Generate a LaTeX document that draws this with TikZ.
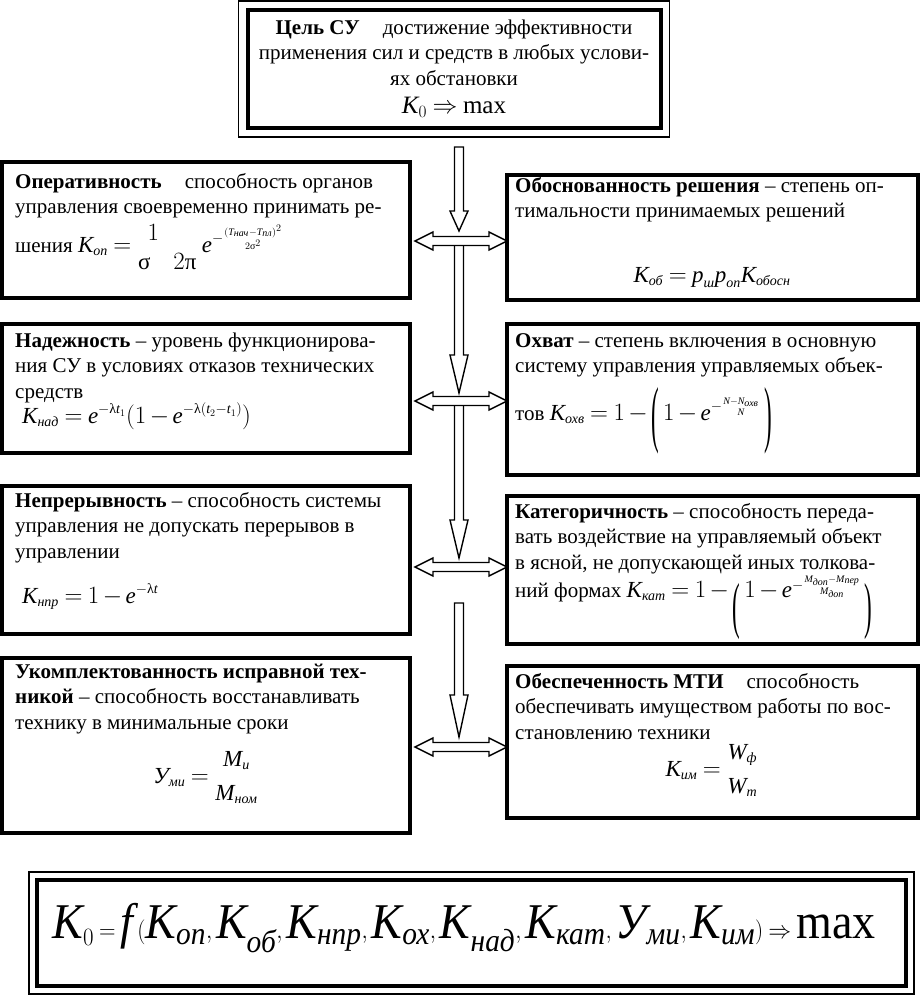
\documentclass[tikz,border=0pt]{standalone}
\usepackage{amsmath}
\usepackage{graphicx}
\usepackage{fontspec}
\setmainfont{Liberation Serif}
\usetikzlibrary{calc}
\DeclareMathSizes{23}{23}{14}{10}
\DeclareMathSizes{50}{50}{32}{24}
\thickmuskip=4mu plus 2mu
\medmuskip=2.5mu plus 1mu minus 1mu
\newcommand\vi[1]{\textit{#1}}
\newcommand\gr[1]{\text{\upshape #1}}
\newcommand\nb[2]{\genfrac{}{}{0pt}{}{#1}{#2}}
\newcommand\nbd[2]{\genfrac{}{}{0pt}{0}{#1}{#2}}
\newcommand\tparen[3]{\raisebox{#3}{\scalebox{1}[#2]{\fontsize{23pt}{27pt}\selectfont #1}}}
\newcommand\bodyfont{\fontsize{21pt}{25.5pt}\selectfont}
\newcommand\formfont{\fontsize{23pt}{27pt}\selectfont}
\newcommand\hvarrow[3]{\draw[blockarrow] let \p1=(#1),\p2=(#2) in
  (\x1-4.5pt,\y1) -- (\x1-4.5pt,\y2+#3) -- (\x1-9pt,\y2+#3) -- (\x1,\y2)
  -- (\x1+9pt,\y2+#3) -- (\x1+4.5pt,\y2+#3) -- (\x1+4.5pt,\y1) -- cycle;}
\newcommand\hharrow[2]{\draw[blockarrow] let \p1=(#1),\p2=(#2) in
  (\x1,\y1) -- (\x1+18pt,\y1+9pt) -- (\x1+18pt,\y1+4.5pt) -- (\x2-18pt,\y1+4.5pt)
  -- (\x2-18pt,\y1+9pt) -- (\x2,\y1) -- (\x2-18pt,\y1-9pt) -- (\x2-18pt,\y1-4.5pt)
  -- (\x1+18pt,\y1-4.5pt) -- (\x1+18pt,\y1-9pt) -- cycle;}
\tikzset{
  box/.style={draw, line width=4pt, inner sep=0pt},
  thinframe/.style={draw, line width=1.5pt},
  txt/.style={anchor=north west, inner sep=0pt, align=left, font=\bodyfont},
  form/.style={anchor=base west, inner sep=0pt, font=\formfont},
  formc/.style={anchor=base, inner sep=0pt, font=\formfont},
  blockarrow/.style={draw, line width=1.4pt, fill=white, line join=miter},
}
\begin{document}
\begin{tikzpicture}[x=1pt,y=-1pt]
\useasboundingbox[fill=white] (0,0) rectangle (922,996);

% goal box
\node[box, minimum width=413pt, minimum height=118pt] (goal) at (454,69) {};
\draw[thinframe] ($(goal.north west)+(-7,-7)$) rectangle ($(goal.south east)+(7,7)$);
\node[anchor=north, inner sep=0pt, align=center, font=\bodyfont] (goalt) at (454,16)
 {\strut\textbf{Цель СУ}\hspace{1.1em}достижение эффективности\\
  применения сил и средств в любых услови-\\
  ях обстановки\\[3pt]
  {\fontsize{25pt}{26pt}\selectfont$\vi{K}_0 \Rightarrow \gr{max}$}};

% boxes
\node[box, minimum width=408pt, minimum height=136pt] (op) at (206,230) {};
\node[box, minimum width=411pt, minimum height=125pt] (ob) at (712.5,237.5) {};
\node[box, minimum width=408pt, minimum height=129pt] (nad) at (206,388.5) {};
\node[box, minimum width=411pt, minimum height=151pt] (ohv) at (712.5,399.5) {};
\node[box, minimum width=408pt, minimum height=148pt] (npr) at (206,560) {};
\node[box, minimum width=411pt, minimum height=148pt] (kat) at (712.5,570) {};
\node[box, minimum width=408pt, minimum height=175pt] (ukm) at (206,745.5) {};
\node[box, minimum width=411pt, minimum height=152pt] (mti) at (712.5,742) {};

% texts
\node[txt] (opt) at (15,170) {\strut\textbf{Оперативность}\hspace{1.1em}способность органов\\
  управления своевременно принимать ре-};
\node[form] (opf) at (15,252) {\bodyfont шения\ \formfont
  $\vi{K}_{\vi{оп}} = \nbd{\raisebox{-5pt}[10pt][0pt]{$1$}\hspace{28pt}}{\gr{σ}\quad 2\gr{π}}\, \vi{e}^{-\nb{(\vi{T}_{\vi{нач}}-\vi{T}_{\vi{пл}})^2}{2\gr{σ}^2}}$};

\node[txt] (obt) at (515,174) {\strut\textbf{Обоснованность решения} – степень оп-\\
  тимальности принимаемых решений};
\node[formc] (obf) at (712,282) {$\vi{K}_{\vi{об}} = \vi{p}_{\vi{ш}}\vi{p}_{\vi{оп}}\vi{K}_{\vi{обосн}}$};

\node[txt] (nadt) at (15,329) {\strut\textbf{Надежность} – уровень функционирова-\\
  ния СУ в условиях отказов технических\\
  средств};
\node[form] (nadf) at (22,423) {$\vi{K}_{\vi{над}} = \vi{e}^{-\gr{λ}\vi{t}_1}(1-\vi{e}^{-\gr{λ}(\vi{t}_2-\vi{t}_1)})$};

\node[txt] (ohvt) at (515,329) {\strut\textbf{Охват} – степень включения в основную\\
  систему управления управляемых объек-};
\node[form] (ohvf) at (515,420) {\bodyfont тов\ \formfont
  $\vi{K}_{\vi{охв}} = 1-\tparen{(}{3.2}{-18pt}\,1-\vi{e}^{-\nb{\vi{N}-\vi{N}_{\vi{охв}}}{\vi{N}}}\,\tparen{)}{3.2}{-18pt}$};

\node[txt] (nprt) at (15,489) {\strut\textbf{Непрерывность} – способность системы\\
  управления не допускать перерывов в\\
  управлении};
\node[form] (nprf) at (22,603) {$\vi{K}_{\vi{нпр}} = 1-\vi{e}^{-\gr{λ}\vi{t}}$};

\node[txt] (katt) at (515,500) {\strut\textbf{Категоричность} – способность переда-\\
  вать воздействие на управляемый объект\\
  в ясной, не допускающей иных толкова-};
\node[form] (katf) at (515,597) {\bodyfont ний формах\ \formfont
  $\vi{K}_{\vi{кат}} = 1-\tparen{(}{2.7}{-29pt}\,1-\vi{e}\raisebox{8pt}{$\scriptstyle-\nb{\vi{M}_{\vi{доп}}-\vi{M}_{\vi{пер}}}{\vi{M}_{\vi{доп}}}$}\,\tparen{)}{2.7}{-29pt}$};

\node[txt] (ukmt) at (15,660) {\strut\textbf{Укомплектованность исправной тех-}\\
  \textbf{никой} – способность восстанавливать\\
  технику в минимальные сроки};
\node[formc] (ukmf) at (206,783) {$\vi{У}_{\vi{ми}} = \nbd{\vi{M}_{\vi{и}}}{\vi{M}_{\vi{ном}}}$};

\node[txt] (mtit) at (515,670) {\strut\textbf{Обеспеченность МТИ}\hspace{1.1em}способность\\
  обеспечивать имуществом работы по вос-\\
  становлению техники};
\node[formc] (mtif) at (712,776) {$\vi{K}_{\vi{им}} = \nbd{\vi{W}_{\vi{ф}}}{\vi{W}_{\vi{т}}}$};

% final box
\node[box, minimum width=869pt, minimum height=106pt] (fin) at (471.5,933) {};
\draw[thinframe] ($(fin.north west)+(-6,-6)$) rectangle ($(fin.south east)+(6,6)$);
\node[anchor=base, inner sep=0pt] (finf) at (464,938) {\scalebox{0.92}[1]{\fontsize{50pt}{54pt}\selectfont
  $\vi{K}_0 = \vi{f}\,(\vi{K}_{\vi{оп}}, \vi{K}_{\vi{об}}, \vi{K}_{\vi{нпр}}, \vi{K}_{\vi{ох}}, \vi{K}_{\vi{над}}, \vi{K}_{\vi{кат}}, \vi{У}_{\vi{ми}}, \vi{K}_{\vi{им}}) \Rightarrow \gr{max}$}};

% arrows
\coordinate (v1s) at (459,147); \coordinate (v1t) at (459,231);
\coordinate (h1l) at (415,241); \coordinate (h1r) at (507,241);
\coordinate (v2s) at (459,245); \coordinate (v2t) at (459,393);
\coordinate (h2l) at (415,401); \coordinate (h2r) at (507,401);
\coordinate (v3s) at (459,405); \coordinate (v3t) at (459,558);
\coordinate (h3l) at (415,567); \coordinate (h3r) at (507,567);
\coordinate (v4s) at (459,603); \coordinate (v4t) at (459,737);
\coordinate (h4l) at (415,747); \coordinate (h4r) at (507,747);
\hvarrow{v1s}{v1t}{20pt}
\hvarrow{v2s}{v2t}{38pt}
\hvarrow{v3s}{v3t}{38pt}
\hvarrow{v4s}{v4t}{42pt}
\hharrow{h1l}{h1r}
\hharrow{h2l}{h2r}
\hharrow{h3l}{h3r}
\hharrow{h4l}{h4r}
\end{tikzpicture}
\end{document}
